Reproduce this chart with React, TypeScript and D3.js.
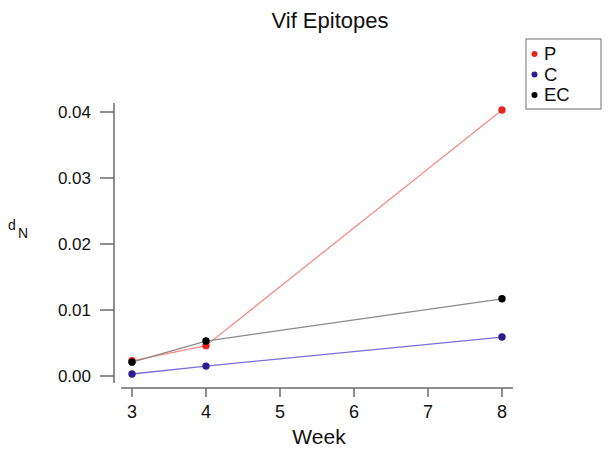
import React from "react";
import * as d3 from "d3";

const weeks = [3, 4, 8];
const seriesNames = ["P", "C", "EC"];
const pValues = [0.0023, 0.0046, 0.0403];
const cValues = [0.0003, 0.0015, 0.0059];
const ecValues = [0.0021, 0.0053, 0.0117];
const xTicks = [3, 4, 5, 6, 7, 8];
const yTicks = [0, 0.01, 0.02, 0.03, 0.04];
const yTickLabels = ["0.00", "0.01", "0.02", "0.03", "0.04"];

const W = 610;
const H = 453;
const FONT = "'Liberation Sans', Arial, Helvetica, sans-serif";

export default function App() {
  const x = d3.scaleLinear().domain([3, 8]).range([132, 502]);
  const y = d3.scaleLinear().domain([0, 0.04]).range([376, 112]);

  const series = [
    { name: seriesNames[0], values: pValues, line: "#f58e86", dot: "#e8261b" },
    { name: seriesNames[1], values: cValues, line: "#7a6ee0", dot: "#2d1d8e" },
    { name: seriesNames[2], values: ecValues, line: "#8a8a8a", dot: "#000000" },
  ];

  const line = d3
    .line<number>()
    .x((_, i) => x(weeks[i]))
    .y((d) => y(d));

  const axisColor = "#6b6b6b";
  const yAxisX = 114;
  const xAxisY = 388;

  return (
    <svg
      width={W}
      height={H}
      style={{ position: "absolute", left: 0, top: 0, background: "#fff" }}
      fontFamily={FONT}
    >
      <rect x={0} y={0} width={W} height={H} fill="#fff" />
      <text x={330} y={28} textAnchor="middle" fontSize={22} fill="#111">
        Vif Epitopes
      </text>

      {/* Y axis */}
      <line x1={yAxisX} x2={yAxisX} y1={103} y2={383} stroke={axisColor} strokeWidth={1.5} />
      {yTicks.map((t, i) => (
        <g key={"yt" + i}>
          <line x1={100} x2={yAxisX} y1={y(t)} y2={y(t)} stroke={axisColor} strokeWidth={1.5} />
          <text
            x={91}
            y={y(t)}
            dy="0.35em"
            textAnchor="end"
            fontSize={17}
            fill="#111"
          >
            {yTickLabels[i]}
          </text>
        </g>
      ))}
      <text x={8} y={230} fontSize={14} fill="#111">
        d
      </text>
      <text x={18} y={238} fontSize={14} fill="#111">
        N
      </text>

      {/* X axis */}
      <line x1={121} x2={513} y1={xAxisY} y2={xAxisY} stroke={axisColor} strokeWidth={1.5} />
      {xTicks.map((t) => (
        <g key={"xt" + t}>
          <line x1={x(t)} x2={x(t)} y1={xAxisY} y2={397} stroke={axisColor} strokeWidth={1.5} />
          <text x={x(t)} y={418} textAnchor="middle" fontSize={18} fill="#111">
            {t}
          </text>
        </g>
      ))}
      <text x={319} y={444} textAnchor="middle" fontSize={21} fill="#111">
        Week
      </text>

      {/* Lines */}
      {series.map((s) => (
        <path key={"l" + s.name} d={line(s.values) || ""} fill="none" stroke={s.line} strokeWidth={1.3} />
      ))}
      {series.map((s) => (
        <g key={"d" + s.name}>
          {s.values.map((v, i) => (
            <circle key={i} cx={x(weeks[i])} cy={y(v)} r={3.7} fill={s.dot} />
          ))}
        </g>
      ))}

      {/* Legend */}
      <rect x={526} y={39} width={75} height={70} fill="#fff" stroke="#888" strokeWidth={1.2} />
      {series.map((s, i) => (
        <g key={"lg" + s.name}>
          <circle cx={534.5} cy={54 + i * 20.5} r={3} fill={s.dot} />
          <text x={544} y={60 + i * 20.5} fontSize={18.5} fill="#111">
            {s.name}
          </text>
        </g>
      ))}
    </svg>
  );
}
